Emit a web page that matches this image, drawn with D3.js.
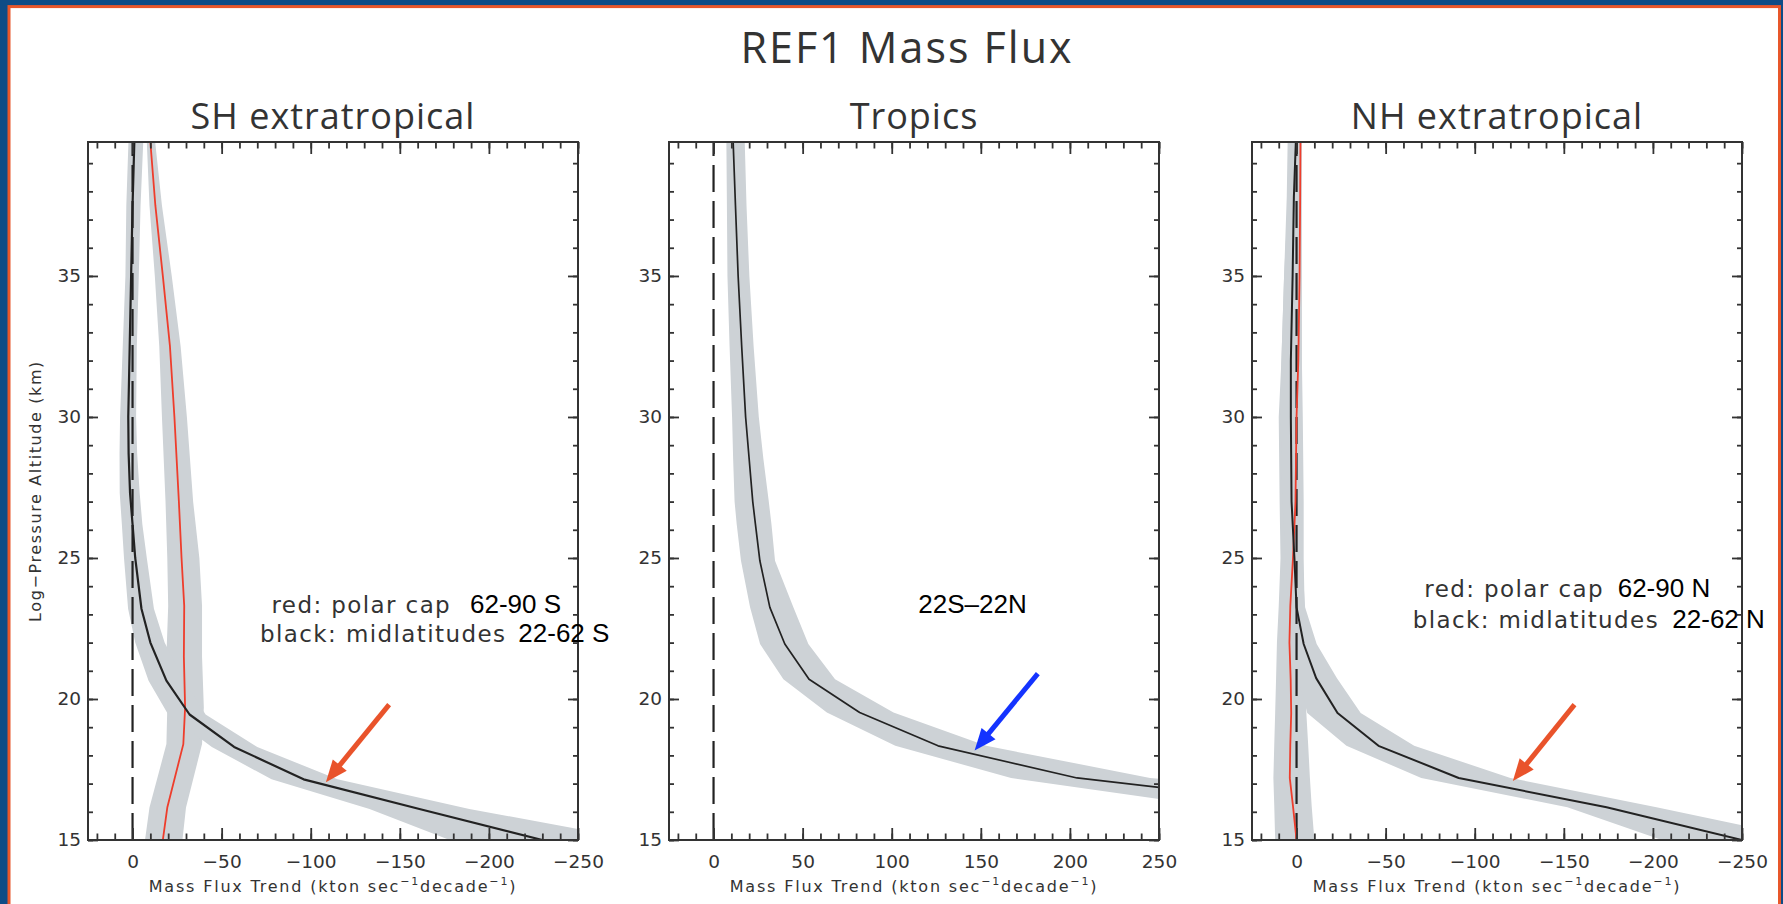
<!DOCTYPE html>
<html>
<head>
<meta charset="utf-8">
<script src="https://cdn.jsdelivr.net/npm/d3@7"></script>
<style>
  html, body { margin: 0; padding: 0; background: #0e4c86; overflow: hidden; }
  svg { display: block; }
</style>
</head>
<body>
<svg id="chart" width="1783" height="904"></svg>
<script>
var TITLE = 'REF1 Mass Flux';
var PANEL_TITLES = ['SH extratropical', 'Tropics', 'NH extratropical'];
var X_DOMAINS = [[25, -250], [-25, 250], [25, -250]];
var Y_DOMAIN = [15, 39.75];
var X_TICKS = [[0, -50, -100, -150, -200, -250], [0, 50, 100, 150, 200, 250], [0, -50, -100, -150, -200, -250]];
var Y_TICKS = [15, 20, 25, 30, 35];
var X_LABEL = 'Mass Flux Trend (kton sec';
var Y_LABEL = 'Log\u2212Pressure Altitude (km)';

// SH extratropical: black = midlatitudes, red = polar cap (km, kton/s/decade)
var SH_MID_ALT  = [15.0, 16.1, 17.15, 18.3, 19.45, 20.65, 22.0, 23.2, 25.0, 26.2, 27.3, 28.7, 30.0, 32.5, 35.0, 37.5, 39.75];
var SH_MID_FLUX = [-230, -161, -96, -57, -32, -19, -10, -5, -1.5, 0, 1.4, 2.2, 2.4, 1.6, 0.8, 0, -1];
var SH_MID_LO   = [-178, -133, -78, -44.5, -20, -9, -1.5, 2.5, 4.8, 6, 7.2, 7.3, 7, 5.5, 4, 3.5, 2.3];
var SH_MID_HI   = [-284, -189, -115, -70, -41, -29, -18, -12, -8, -5.5, -4, -2.6, -2, -2.4, -3.5, -4.5, -6];

var SH_POL_ALT  = [15.0, 16.15, 18.4, 19.7, 21.5, 23.3, 25.0, 27.0, 30.0, 32.5, 35.0, 37.5, 39.75];
var SH_POL_FLUX = [-17, -19.5, -28.5, -29.5, -28.8, -29, -27.5, -26, -23.5, -21, -17, -12.8, -10];
var SH_POL_LO   = [-7, -9.5, -19, -19.5, -19, -20, -19.5, -18.5, -16.5, -15, -12.5, -9.5, -8];
var SH_POL_HI   = [-28, -30, -39, -40, -39, -39, -37.5, -34, -30.5, -27, -22, -16.5, -12.7];

// Tropics 22S-22N
var TR_ALT  = [16.1, 17.2, 18.34, 19.52, 20.7, 21.95, 23.25, 24.9, 26.2, 27.0, 28.5, 30.0, 32.5, 35.0, 37.5, 39.75];
var TR_FLUX = [355, 204, 126, 82, 53.6, 40, 31.6, 26, 23.5, 22, 20, 18, 15.8, 13.8, 12.3, 11];
var TR_LO   = [290, 167, 102, 63.6, 39.2, 26.1, 20.5, 15.4, 13, 11.8, 11, 10.4, 9, 7.8, 7.5, 7.2];
var TR_HI   = [420, 245, 153, 101, 68.2, 53.2, 44.8, 34.5, 32.5, 31, 28, 25.4, 22.5, 20.1, 18.5, 17.5];

// NH extratropical
var NH_MID_ALT  = [15.0, 16.16, 17.2, 18.34, 19.5, 20.74, 21.95, 23.25, 25.0, 27.0, 30.0, 32.0, 35.0, 37.8, 39.75];
var NH_MID_FLUX = [-250, -174, -91, -46, -23, -11, -4, 0, 1.2, 2.8, 3.2, 3.2, 2.2, 1.5, 0.4];
var NH_MID_LO   = [-205, -152, -70, -28, -6, -1, 2, 5, 6, 8, 9, 8.5, 7, 5.5, 5];
var NH_MID_HI   = [-290, -202, -120, -66, -36, -22.6, -11.3, -4.8, -3, -2.5, -3, -3, -2.5, -1.8, -1.5];

var NH_POL_ALT  = [15.0, 16.2, 17.2, 18.4, 19.5, 20.7, 22.0, 23.3, 25.0, 27.0, 30.0, 32.0, 35.0, 37.5, 39.75];
var NH_POL_FLUX = [0, 2, 3.8, 3.5, 3, 3.3, 4, 3.5, 2, 0.6, 0, -1, -1.7, -2, -2.2];
var NH_POL_LO   = [12, 12.5, 13, 12.5, 12, 11.5, 11, 10, 9, 9.5, 10, 8.5, 7, 5, 4];
var NH_POL_HI   = [-10, -8.5, -7.5, -6.5, -5.5, -5, -4.5, -4.5, -4, -4, -3.5, -3, -3, -3, -3];

// arrows: [flux, altitude] of tail and tip
var ARROW_FROM = [[-144, 19.8], [182, 20.9], [-156, 19.8]];
var ARROW_TO   = [[-108.5, 17.05], [146.5, 18.17], [-121.4, 17.09]];

var NOTES = [
  ['red: polar cap', '62-90 S', 'black: midlatitudes', '22-62 S'],
  ['22S\u201322N'],
  ['red: polar cap', '62-90 N', 'black: midlatitudes', '22-62 N']
];

(function () {
  'use strict';

  var W = 1783;
  var H = 904;
  var PANEL_LEFT = [88, 669, 1252];
  var PANEL_TOP = 142;
  var PANEL_W = 490;
  var PANEL_H = 698;
  var AXIS_COLOR = '#333';
  var BAND_COLOR = '#cdd2d6';
  var RED = '#ee3d2c';
  var ORANGE = '#e9532b';
  var BLUE = '#1433ff';
  var TICK_FONT = "'DejaVu Sans', sans-serif";
  var TITLE_FONT = "'Open Sans', sans-serif";
  var ARIAL = "'Liberation Sans', Arial, sans-serif";
  // note positions relative to the panel origin: [dx, dy, font]
  var NOTE_POS = [
    [[183.5, 470.5, 'g'], [382, 471, 'n'], [172, 499.8, 'g'], [430.3, 500, 'n']],
    [[249.3, 470.7, 'n']],
    [[172.3, 455, 'g'], [365.7, 455.3, 'n'], [160.7, 485.8, 'g'], [420.3, 486, 'n']]
  ];

  var rows = function (alt, flux, lo, hi) {
    return alt.map(function (a, i) {
      return { alt: a, flux: flux[i], lo: lo[i], hi: hi[i] };
    });
  };

  var SERIES = [
    [
      { rows: rows(SH_POL_ALT, SH_POL_FLUX, SH_POL_LO, SH_POL_HI), color: RED, width: 1.8 },
      { rows: rows(SH_MID_ALT, SH_MID_FLUX, SH_MID_LO, SH_MID_HI), color: '#222', width: 2.2 }
    ],
    [
      { rows: rows(TR_ALT, TR_FLUX, TR_LO, TR_HI), color: '#222', width: 1.7 }
    ],
    [
      { rows: rows(NH_POL_ALT, NH_POL_FLUX, NH_POL_LO, NH_POL_HI), color: RED, width: 1.8 },
      { rows: rows(NH_MID_ALT, NH_MID_FLUX, NH_MID_LO, NH_MID_HI), color: '#222', width: 2 }
    ]
  ];
  var ARROW_COLORS = [ORANGE, BLUE, ORANGE];

  var svg = d3.select('#chart');

  // blue slide background with the orange framed white card
  svg.append('rect').attr('width', W).attr('height', H).attr('fill', '#0e4c86');
  svg.append('rect')
    .attr('x', 9).attr('y', 6.6)
    .attr('width', 1770.5).attr('height', H + 20)
    .attr('fill', '#fff')
    .attr('stroke', '#e8572a')
    .attr('stroke-width', 3);

  svg.append('text')
    .attr('x', 907).attr('y', 63)
    .attr('text-anchor', 'middle')
    .attr('font-family', TITLE_FONT)
    .attr('font-size', 43)
    .attr('letter-spacing', 2)
    .attr('fill', '#333')
    .text(TITLE);

  function superLabel(sel) {
    sel.append('tspan').text(X_LABEL);
    sel.append('tspan').attr('dy', -7).attr('font-size', 11).text('\u22121');
    sel.append('tspan').attr('dy', 7).text('decade');
    sel.append('tspan').attr('dy', -7).attr('font-size', 11).text('\u22121');
    sel.append('tspan').attr('dy', 7).text(')');
  }

  function drawArrow(g, p0, p1, color) {
    var dx = p1[0] - p0[0];
    var dy = p1[1] - p0[1];
    var len = Math.sqrt(dx * dx + dy * dy);
    var ux = dx / len, uy = dy / len;
    var headLen = 22, headHalf = 9;
    var bx = p1[0] - ux * headLen, by = p1[1] - uy * headLen;
    g.append('line')
      .attr('x1', p0[0]).attr('y1', p0[1])
      .attr('x2', bx + ux * 2).attr('y2', by + uy * 2)
      .attr('stroke', color)
      .attr('stroke-width', 5);
    g.append('path')
      .attr('d', 'M' + p1[0] + ',' + p1[1] +
        'L' + (bx - uy * headHalf) + ',' + (by + ux * headHalf) +
        'L' + (bx + uy * headHalf) + ',' + (by - ux * headHalf) + 'Z')
      .attr('fill', color);
  }

  function drawPanel(i) {
    var g = svg.append('g')
      .attr('transform', 'translate(' + PANEL_LEFT[i] + ',' + PANEL_TOP + ')');
    var x = d3.scaleLinear().domain(X_DOMAINS[i]).range([0, PANEL_W]);
    var y = d3.scaleLinear().domain(Y_DOMAIN).range([PANEL_H, 0]);

    g.append('clipPath').attr('id', 'clip' + i)
      .append('rect').attr('width', PANEL_W).attr('height', PANEL_H);
    var plot = g.append('g').attr('clip-path', 'url(#clip' + i + ')');

    var band = d3.area()
      .x0(function (d) { return x(d.lo); })
      .x1(function (d) { return x(d.hi); })
      .y(function (d) { return y(d.alt); });
    var line = d3.line()
      .x(function (d) { return x(d.flux); })
      .y(function (d) { return y(d.alt); });

    SERIES[i].forEach(function (s) {
      plot.append('path').datum(s.rows).attr('d', band).attr('fill', BAND_COLOR);
    });

    plot.append('line')
      .attr('x1', x(0)).attr('x2', x(0))
      .attr('y1', PANEL_H).attr('y2', 0)
      .attr('stroke', '#222')
      .attr('stroke-width', 2.2)
      .attr('stroke-dasharray', '27,9');

    SERIES[i].forEach(function (s) {
      plot.append('path').datum(s.rows)
        .attr('d', line)
        .attr('fill', 'none')
        .attr('stroke', s.color)
        .attr('stroke-width', s.width)
        .attr('stroke-linejoin', 'round');
    });

    // IDL style inward ticks on all four sides
    var axes = [
      { ax: d3.axisBottom(x).tickValues(x.ticks(30)).tickSize(-6.5).tickFormat(''), t: [0, PANEL_H] },
      { ax: d3.axisTop(x).tickValues(x.ticks(30)).tickSize(-6.5).tickFormat(''), t: [0, 0] },
      { ax: d3.axisBottom(x).tickValues(X_TICKS[i]).tickSize(-12).tickPadding(15), t: [0, PANEL_H] },
      { ax: d3.axisTop(x).tickValues(X_TICKS[i]).tickSize(-12).tickFormat(''), t: [0, 0] },
      { ax: d3.axisLeft(y).tickValues(y.ticks(25)).tickSize(-5).tickFormat(''), t: [0, 0] },
      { ax: d3.axisRight(y).tickValues(y.ticks(25)).tickSize(-5).tickFormat(''), t: [PANEL_W, 0] },
      { ax: d3.axisLeft(y).tickValues(Y_TICKS).tickSize(-10).tickPadding(7), t: [0, 0] },
      { ax: d3.axisRight(y).tickValues(Y_TICKS).tickSize(-10).tickFormat(''), t: [PANEL_W, 0] }
    ];
    axes.forEach(function (a) {
      var ag = g.append('g')
        .attr('transform', 'translate(' + a.t[0] + ',' + a.t[1] + ')')
        .call(a.ax.tickSizeOuter(0));
      ag.select('.domain').remove();
      ag.selectAll('line').attr('stroke', AXIS_COLOR).attr('stroke-width', 1.8);
      ag.selectAll('text')
        .attr('font-family', TICK_FONT)
        .attr('font-size', 18.5)
        .attr('fill', '#333');
    });

    g.append('rect')
      .attr('width', PANEL_W).attr('height', PANEL_H)
      .attr('fill', 'none')
      .attr('stroke', AXIS_COLOR)
      .attr('stroke-width', 2);

    g.append('text')
      .attr('x', PANEL_W / 2).attr('y', -13)
      .attr('text-anchor', 'middle')
      .attr('font-family', TITLE_FONT)
      .attr('font-size', 36)
      .attr('letter-spacing', 1)
      .attr('fill', '#333')
      .text(PANEL_TITLES[i]);

    g.append('text')
      .attr('x', PANEL_W / 2).attr('y', 891.5 - PANEL_TOP)
      .attr('text-anchor', 'middle')
      .attr('font-family', TICK_FONT)
      .attr('font-size', 16)
      .attr('letter-spacing', 1.8)
      .attr('fill', '#333')
      .call(superLabel);

    if (i === 0) {
      g.append('text')
        .attr('transform', 'translate(' + (35 - PANEL_LEFT[0]) + ',' + (PANEL_H / 2) + ') rotate(-90)')
        .attr('text-anchor', 'middle')
        .attr('dy', '0.35em')
        .attr('font-family', TICK_FONT)
        .attr('font-size', 16)
        .attr('letter-spacing', 1.6)
        .attr('fill', '#333')
        .text(Y_LABEL);
    }

    NOTES[i].forEach(function (txt, k) {
      var p = NOTE_POS[i][k];
      var t = g.append('text').attr('x', p[0]).attr('y', p[1]).text(txt);
      if (p[2] === 'g') {
        t.attr('font-family', TICK_FONT).attr('font-size', 23)
          .attr('letter-spacing', 1.4).attr('fill', '#333');
      } else {
        t.attr('font-family', ARIAL).attr('font-size', 26).attr('fill', '#000');
      }
    });

    drawArrow(g,
      [x(ARROW_FROM[i][0]), y(ARROW_FROM[i][1])],
      [x(ARROW_TO[i][0]), y(ARROW_TO[i][1])],
      ARROW_COLORS[i]);
  }

  PANEL_TITLES.forEach(function (t, i) { drawPanel(i); });
})();
</script>
</body>
</html>
